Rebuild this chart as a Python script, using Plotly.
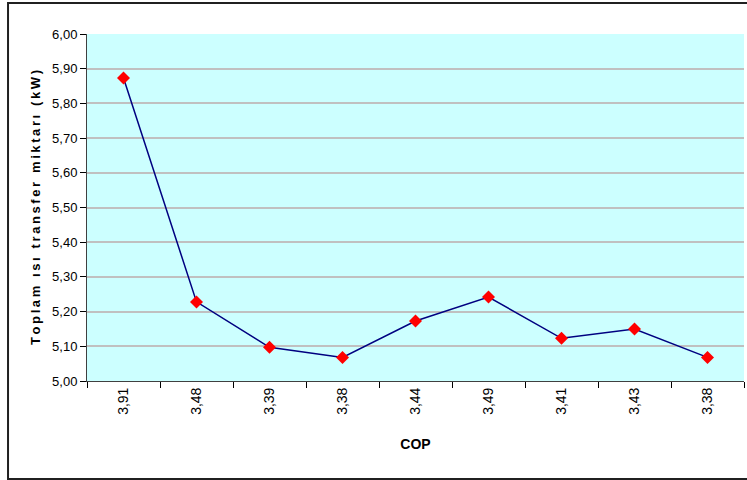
import plotly.graph_objects as go

# COP values for each measurement (shown as category labels)
cop_labels = ["3,91", "3,48", "3,39", "3,38", "3,44", "3,49", "3,41", "3,43", "3,38"]
# Total heat transfer in kW
heat_kw = [5.873, 5.228, 5.097, 5.068, 5.173, 5.242, 5.123, 5.150, 5.068]

y_ticks = [5.0 + 0.1 * i for i in range(11)]
positions = list(range(len(cop_labels)))

# spaced-out axis title text
ts = "\u2009"
y_title = ts.join("Toplam ısı transfer miktarı (kW)")

fig = go.Figure()
fig.add_trace(go.Scatter(
    x=positions,
    y=heat_kw,
    mode="lines+markers",
    line=dict(color="#000080", width=1.5),
    marker=dict(symbol="diamond", color="#FF0000", size=10,
                line=dict(width=0)),
    showlegend=False,
    cliponaxis=False,
))

fig.update_layout(
    width=747,
    height=480,
    margin=dict(l=87, r=3, t=34, b=99),
    paper_bgcolor="white",
    plot_bgcolor="#CCFFFF",
    separators=",.",
    font=dict(family="Liberation Sans, Arial, sans-serif", size=13, color="black"),
    xaxis=dict(
        range=[-0.5, len(cop_labels) - 0.5],
        tickvals=positions,
        ticktext=cop_labels,
        tickangle=-90,
        ticks="",
        tickfont=dict(size=14),
        showgrid=False,
        zeroline=False,
        showline=True,
        linecolor="#404040",
        linewidth=1,
        minor=dict(tick0=0.5, dtick=1, ticks="outside", ticklen=6,
                   tickcolor="#000000", showgrid=False),
        title=dict(text="<b>COP</b>", font=dict(size=14), standoff=25),
    ),
    yaxis=dict(
        range=[5.0, 6.0],
        tickvals=y_ticks,
        tickformat=".2f",
        ticks="outside",
        ticklen=6,
        tickcolor="#000000",
        tickfont=dict(size=13),
        showgrid=True,
        gridcolor="#C0C0C0",
        gridwidth=2,
        zeroline=False,
        showline=True,
        linecolor="#404040",
        linewidth=1,
        title=dict(text="<b>" + y_title + "</b>", font=dict(size=13), standoff=8),
    ),
    shapes=[dict(
        type="rect", xref="paper", yref="paper",
        x0=-0.1202, x1=1.02, y0=-0.2824, y1=1.0893,
        line=dict(color="#202020", width=2),
        fillcolor="rgba(0,0,0,0)", layer="below",
    )],
)

fig.write_html("out.html")
